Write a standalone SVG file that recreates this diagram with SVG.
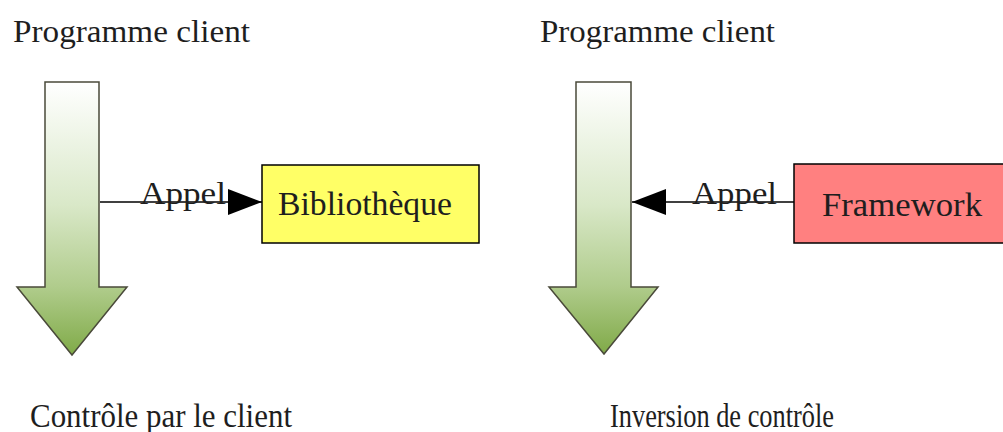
<svg xmlns="http://www.w3.org/2000/svg" width="1003" height="432" viewBox="0 0 1003 432">
  <style>
    text { font-family: "Liberation Serif", "Times New Roman", serif; fill: #1e1e1e; }
    .lbl { font-size: 31px; }
    .big { font-size: 33px; }
    .edge { font-size: 31px; }
    .flow { fill: url(#g); stroke: #4a4a3a; stroke-width: 1.5; stroke-linejoin: miter; }
    .conn { stroke: #000; stroke-width: 1.5; fill: none; }
    .box { stroke: #000; stroke-width: 1.5; }
  </style>
  <defs>
    <linearGradient id="g" x1="0" y1="0" x2="0" y2="1">
      <stop offset="0" stop-color="#ffffff"/>
      <stop offset="0.45" stop-color="#d9e8c8"/>
      <stop offset="0.75" stop-color="#b0cc8c"/>
      <stop offset="1" stop-color="#80aa48"/>
    </linearGradient>
    <marker id="ah" viewBox="0 0 34 26" refX="34" refY="13" markerWidth="34" markerHeight="26" markerUnits="userSpaceOnUse" orient="auto">
      <path d="M0,0 L34,13 L0,26 Z" fill="#000"/>
    </marker>
  </defs>
  <rect width="1003" height="432" fill="#fff"/>

  <g id="left-title"><text class="lbl" x="13" y="42" textLength="237" lengthAdjust="spacingAndGlyphs">Programme client</text></g>
  <g id="right-title"><text class="lbl" x="540" y="42" textLength="235" lengthAdjust="spacingAndGlyphs">Programme client</text></g>

  <g id="left-flow"><path class="flow" d="M45,82 H99 V287 H127 L72,355 L17,287 H45 Z"/></g>
  <g id="right-flow"><path class="flow" d="M576,82 H631 V287 H658 L604,354 L549,287 H576 Z"/></g>

  <g id="bibliotheque">
    <rect class="box" x="262" y="165" width="217" height="78" fill="#ffff66"/>
    <text class="big" x="278" y="215" textLength="174" lengthAdjust="spacingAndGlyphs">Bibliothèque</text>
  </g>
  <g id="framework">
    <rect class="box" x="794" y="164" width="215" height="79" fill="#ff8080"/>
    <text class="big" x="822" y="216" textLength="160" lengthAdjust="spacingAndGlyphs">Framework</text>
  </g>

  <g id="connectors">
    <line class="conn" x1="100" y1="202" x2="262" y2="202" marker-end="url(#ah)"/>
    <text class="edge" x="140" y="204" textLength="86" lengthAdjust="spacingAndGlyphs">Appel</text>
    <line class="conn" x1="794" y1="202" x2="632" y2="202" marker-end="url(#ah)"/>
    <text class="edge" x="692" y="204" textLength="85" lengthAdjust="spacingAndGlyphs">Appel</text>
  </g>

  <g id="left-caption"><text class="big" x="30" y="427" textLength="262" lengthAdjust="spacingAndGlyphs">Contrôle par le client</text></g>
  <g id="right-caption"><text class="big" x="610" y="427" textLength="224" lengthAdjust="spacingAndGlyphs">Inversion de contrôle</text></g>
</svg>
